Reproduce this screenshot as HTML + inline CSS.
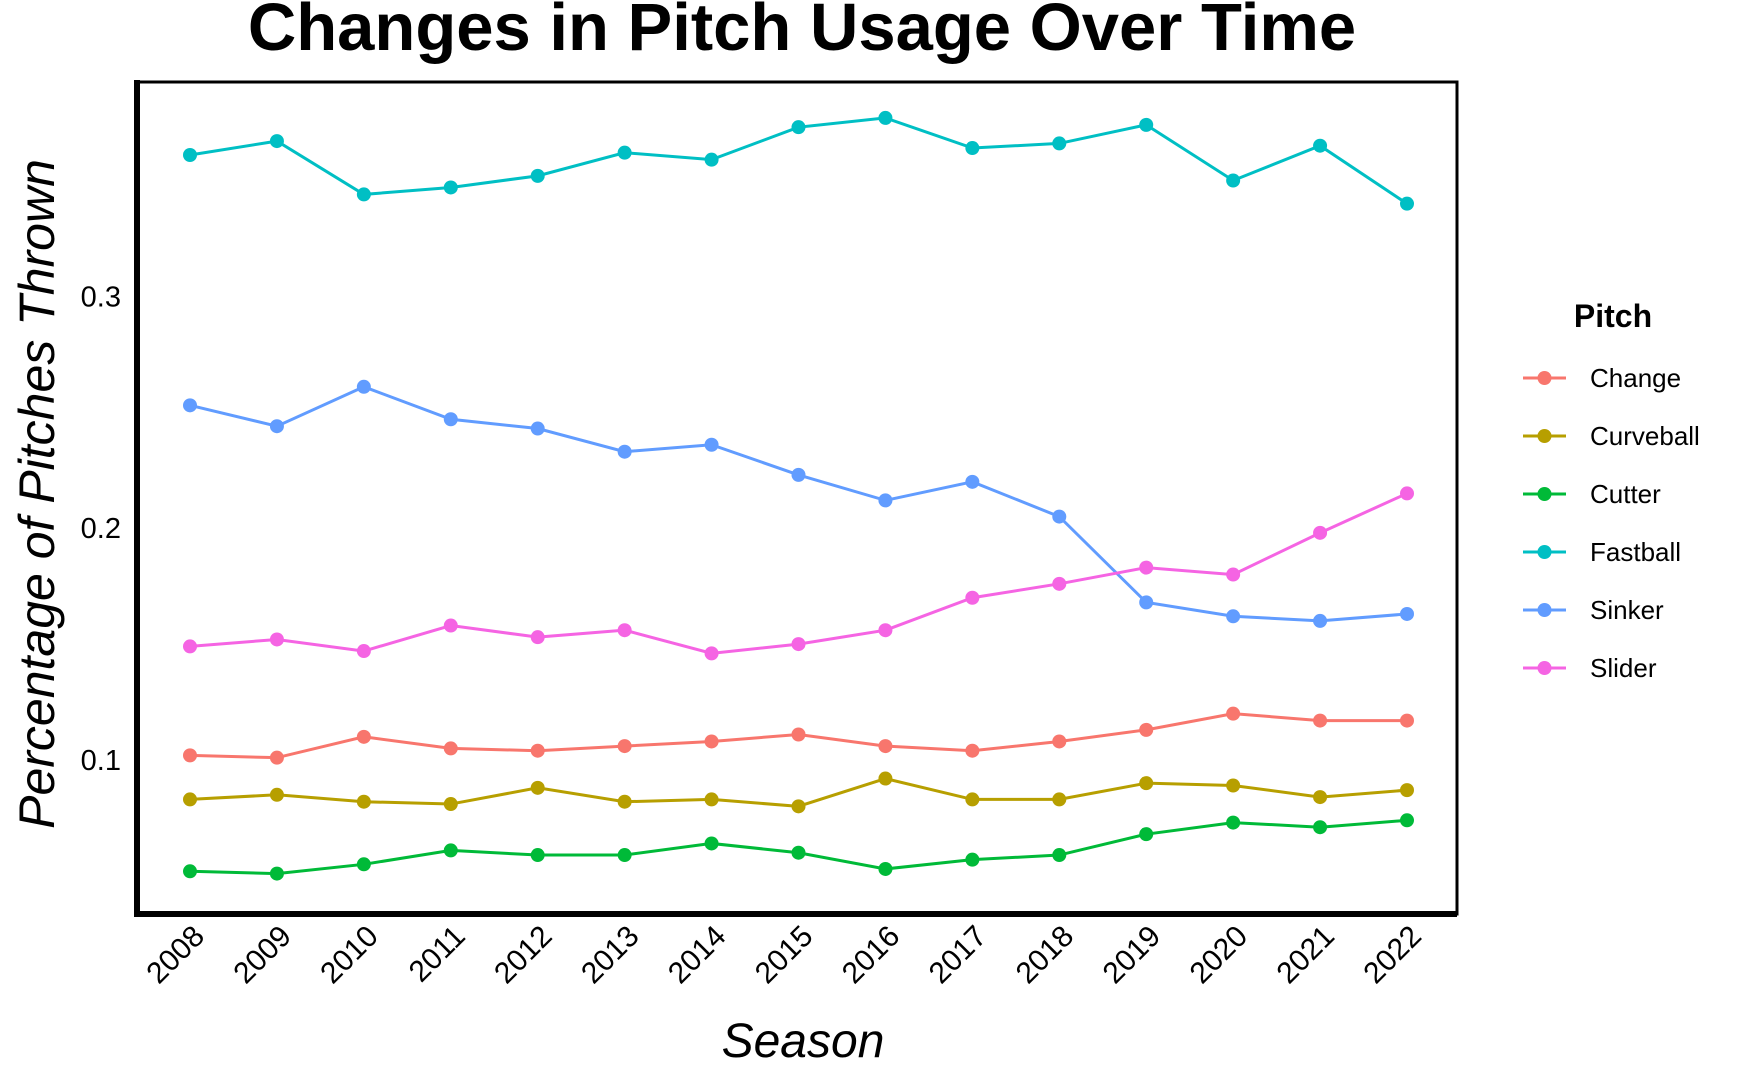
<!DOCTYPE html>
<html><head><meta charset="utf-8"><style>
html,body{margin:0;padding:0;background:#fff;}
svg{display:block;font-family:"Liberation Sans",Arial,sans-serif;}
</style></head><body>
<svg id="chart" width="1750" height="1081" viewBox="0 0 1750 1081">
<text x="802" y="50" text-anchor="middle" font-size="67" font-weight="bold">Changes in Pitch Usage Over Time</text>
<rect x="137" y="82" width="1320" height="832" fill="#fff" stroke="#000" stroke-width="3"/>
<line x1="137" y1="80" x2="137" y2="917" stroke="#000" stroke-width="6"/>
<line x1="134" y1="914" x2="1457" y2="914" stroke="#000" stroke-width="6"/>
<g id="yticks"></g><g id="xticks"></g><g id="series"></g>
<text transform="translate(54,494) rotate(-90)" text-anchor="middle" font-size="50" font-style="italic">Percentage of Pitches Thrown</text>
<text x="803" y="1057" text-anchor="middle" font-size="48" font-style="italic">Season</text>
<g id="legend">
<text x="1613" y="327" text-anchor="middle" font-size="32" font-weight="bold">Pitch</text>
</g>
</svg>
<script>
const years=[2008,2009,2010,2011,2012,2013,2014,2015,2016,2017,2018,2019,2020,2021,2022];
const yTicks=[0.1,0.2,0.3];
const pitchNames=["Change","Curveball","Cutter","Fastball","Sinker","Slider"];
const pitchColors=["#F8766D","#B79F00","#00BA38","#00BFC4","#619CFF","#F564E3"];
const changeVals=[0.102,0.101,0.110,0.105,0.104,0.106,0.108,0.111,0.106,0.104,0.108,0.113,0.120,0.117,0.117];
const curveballVals=[0.083,0.085,0.082,0.081,0.088,0.082,0.083,0.080,0.092,0.083,0.083,0.090,0.089,0.084,0.087];
const cutterVals=[0.052,0.051,0.055,0.061,0.059,0.059,0.064,0.060,0.053,0.057,0.059,0.068,0.073,0.071,0.074];
const fastballVals=[0.361,0.367,0.344,0.347,0.352,0.362,0.359,0.373,0.377,0.364,0.366,0.374,0.350,0.365,0.340];
const sinkerVals=[0.253,0.244,0.261,0.247,0.243,0.233,0.236,0.223,0.212,0.220,0.205,0.168,0.162,0.160,0.163];
const sliderVals=[0.149,0.152,0.147,0.158,0.153,0.156,0.146,0.150,0.156,0.170,0.176,0.183,0.180,0.198,0.215];
const seriesVals=[changeVals,curveballVals,cutterVals,fastballVals,sinkerVals,sliderVals];

const NS="http://www.w3.org/2000/svg";
function xScale(yr){return 190+(yr-2008)*(1407-190)/14;}
function yScale(v){return 760-(v-0.1)*2318;}
function mk(tag,attrs,parent){const e=document.createElementNS(NS,tag);for(const k in attrs)e.setAttribute(k,attrs[k]);parent.appendChild(e);return e;}

const yg=document.getElementById('yticks');
yTicks.forEach(t=>{
  const el=mk('text',{x:121,y:yScale(t)+10,'text-anchor':'end','font-size':29},yg);
  el.textContent=String(t);
  
  
});
const xg=document.getElementById('xticks');
years.forEach(yr=>{
  const x=xScale(yr);
  const el=mk('text',{x:0,y:0,'text-anchor':'end','font-size':30,transform:`translate(${x+16},${938}) rotate(-45)`},xg);
  el.textContent=String(yr);
  
  
});
const sg=document.getElementById('series');
seriesVals.forEach((vals,i)=>{
  const g=mk('g',{},sg);
  
  
  const pts=vals.map((v,j)=>xScale(years[j])+','+yScale(v)).join(' ');
  const pl=mk('polyline',{points:pts,fill:'none',stroke:pitchColors[i],'stroke-width':3},g);
  
  
  vals.forEach((v,j)=>{
    const c=mk('circle',{cx:xScale(years[j]),cy:yScale(v),r:7,fill:pitchColors[i]},g);
    
    
  });
});
const lg=document.getElementById('legend');
pitchNames.forEach((n,i)=>{
  const y=378+i*58;
  const g=mk('g',{},lg);
  
  
  mk('line',{x1:1523,y1:y,x2:1566,y2:y,stroke:pitchColors[i],'stroke-width':3},g);
  mk('circle',{cx:1544.5,cy:y,r:7,fill:pitchColors[i]},g);
  const t=mk('text',{x:1590,y:y+9,'font-size':26},g);
  t.textContent=n;
  
  
});
</script>
</body></html>
